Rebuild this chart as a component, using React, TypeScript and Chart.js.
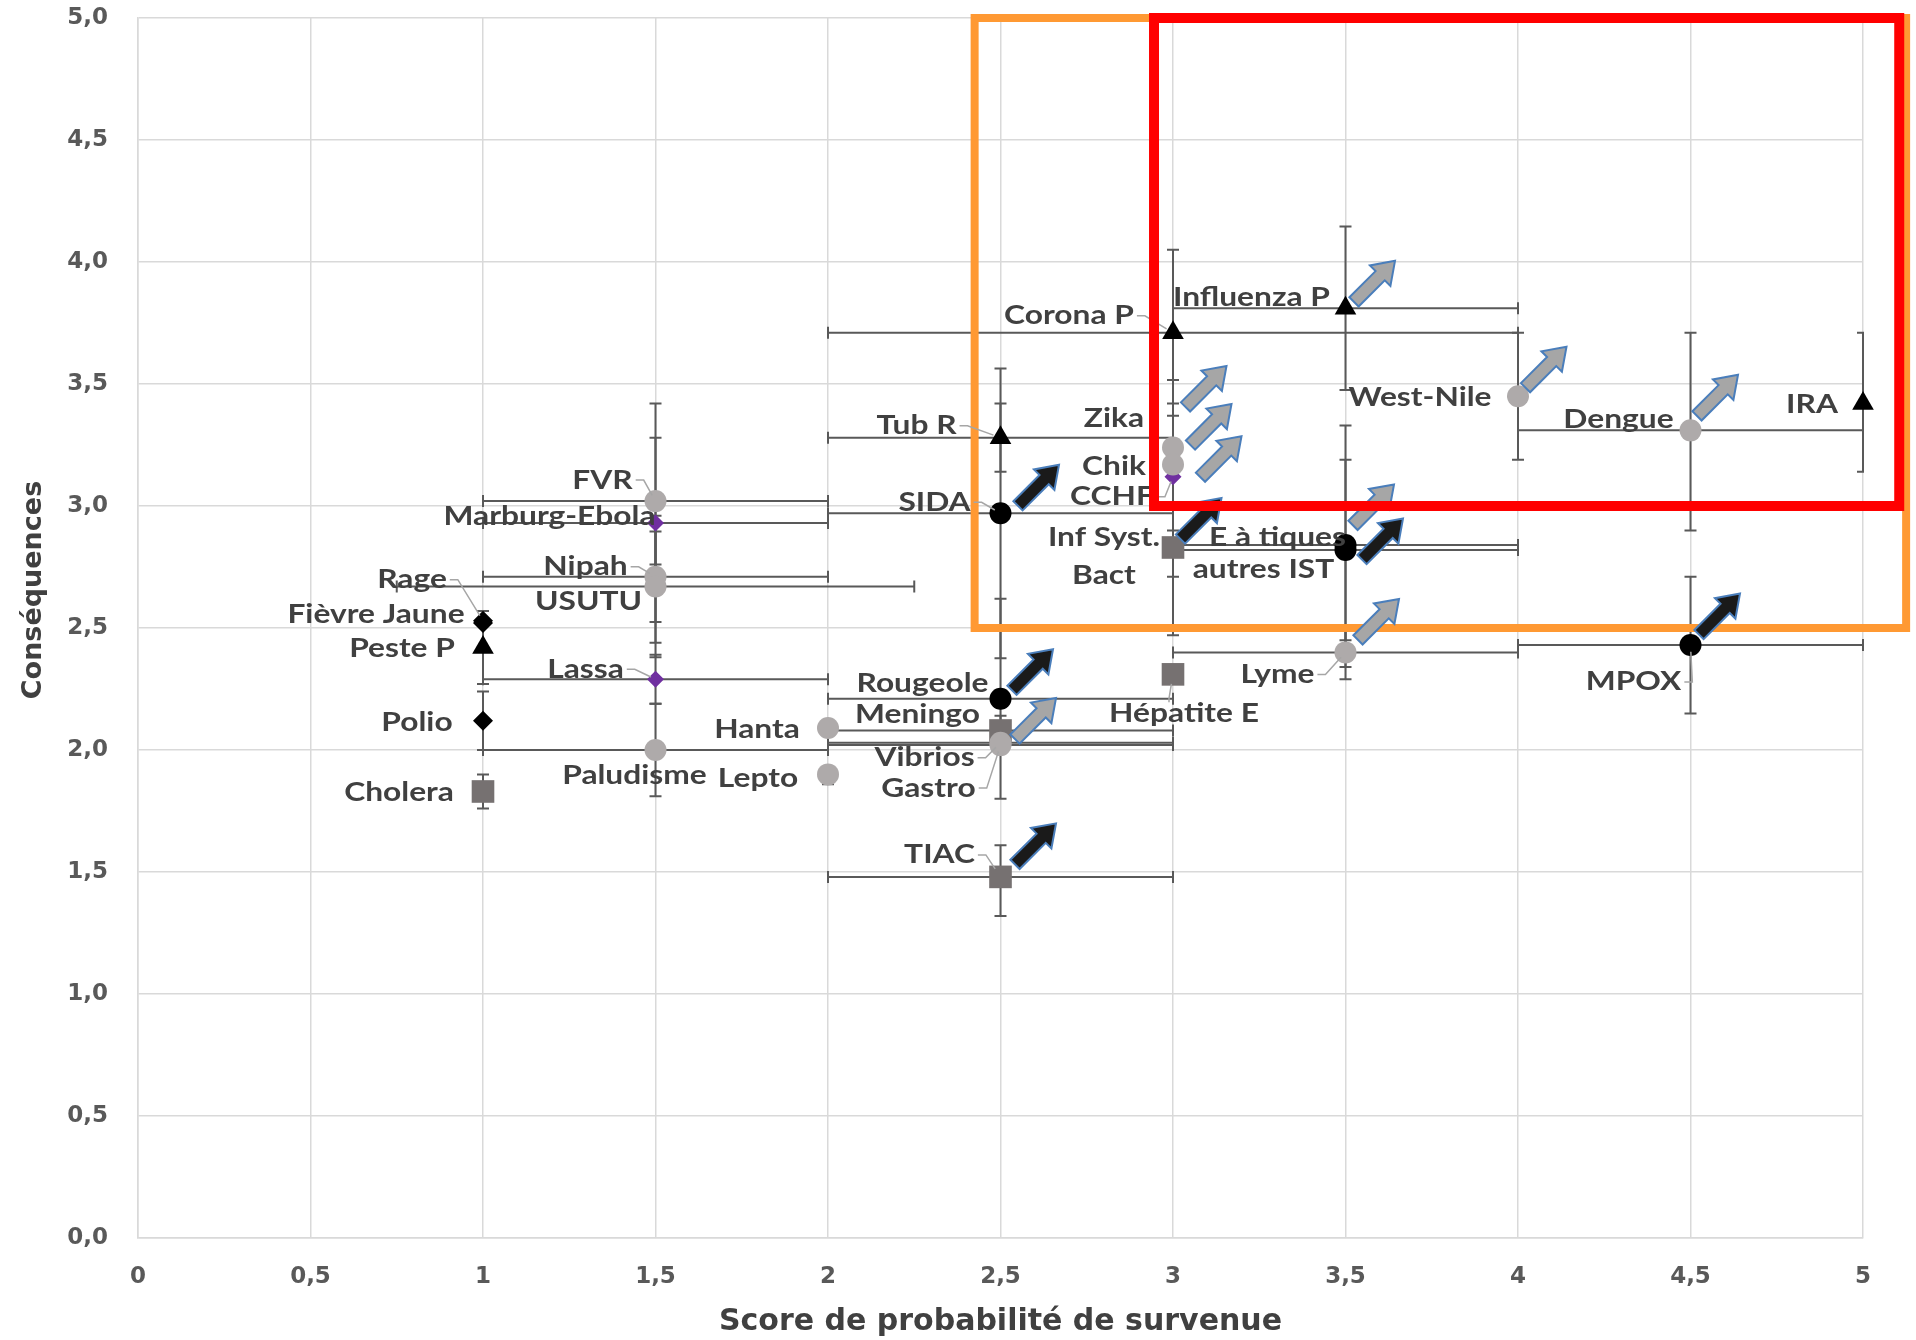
import React, { useEffect, useRef } from 'react';
import { Chart, registerables } from 'chart.js';

Chart.register(...registerables);

// ---------- DATA ----------
const diseases = [
  'FVR', 'Marburg-Ebola', 'Rage', 'Nipah', 'USUTU', 'Fièvre Jaune', 'Peste P', 'Lassa', 'Polio', 'Cholera',
  'Paludisme', 'Lepto', 'Hanta', 'Tub R', 'SIDA', 'Corona P', 'Influenza P', 'Zika', 'Chik', 'CCHF',
  'Inf Syst.\nBact', 'E à tiques', 'autres IST', 'West-Nile', 'Dengue', 'IRA', 'MPOX', 'Lyme', 'Hépatite E', 'Rougeole',
  'Meningo', 'Vibrios', 'Gastro', 'TIAC',
];

const probability = [
  1.5, 1.5, 1.0, 1.5, 1.5, 1.0, 1.0, 1.5, 1.0, 1.0,
  1.5, 2.0, 2.0, 2.5, 2.5, 3.0, 3.5, 3.0, 3.0, 3.0,
  3.0, 3.5, 3.5, 4.0, 4.5, 5.0, 4.5, 3.5, 3.0, 2.5,
  2.5, 2.5, 2.5, 2.5,
];

const consequences = [
  3.02, 2.93, 2.53, 2.71, 2.67, 2.52, 2.42, 2.29, 2.12, 1.83,
  2.00, 1.90, 2.09, 3.28, 2.97, 3.71, 3.81, 3.24, 3.17, 3.12,
  2.83, 2.84, 2.82, 3.45, 3.31, 3.42, 2.43, 2.40, 2.31, 2.21,
  2.08, 2.03, 2.02, 1.48,
];

const probLow = [
  1, 1, null, 1, 0.75, null, null, 1, null, null,
  1, null, null, 2, 2, 2, 3, null, null, null,
  null, 3, 3, null, 4, null, 4, 3, null, 2,
  2, 2, 2, 2,
];
const probHigh = [
  2, 2, null, 2, 2.25, null, null, 2, null, null,
  2, null, null, 3, 3, 4, 4, null, null, null,
  null, 4, 4, null, 5, null, 5, 4, null, 3,
  3, 3, 3, 3,
];

const consLow = [
  2.76, 2.44, null, 2.525, 2.38, null, 2.27, 2.19, 2.0, 1.76,
  1.81, 1.86, null, 3.14, 2.376, 3.37, 3.475, null, 2.90, 2.71,
  2.47, 2.34, 2.45, 3.19, 2.90, 3.14, 2.15, 2.29, null, 1.80,
  2.02, null, null, 1.32,
];
const consHigh = [
  3.28, 3.42, null, 2.895, 2.96, null, 2.57, 2.39, 2.24, 1.90,
  2.19, 1.93, null, 3.42, 3.564, 4.05, 4.146, null, 3.42, 3.516,
  3.19, 3.33, 3.19, 3.71, 3.71, 3.71, 2.71, 2.51, null, 2.62,
  2.14, null, null, 1.61,
];

const markerKind = [
  'circleGray', 'diamondPurple', 'diamondBlack', 'circleGray', 'circleGray', 'diamondBlack', 'triangle', 'diamondPurple', 'diamondBlack', 'square',
  'circleGray', 'circleGray', 'circleGray', 'triangle', 'circleBlack', 'triangle', 'triangle', 'circleGray', 'circleGray', 'diamondPurple',
  'square', 'circleBlack', 'circleBlack', 'circleGray', 'circleGray', 'triangle', 'circleBlack', 'circleGray', 'square', 'circleBlack',
  'square', 'circleGray', 'circleGray', 'square',
];

// rising trend: 'black' or 'grey' arrow, null = none
const trend = [
  null, null, null, null, null, null, null, null, null, null,
  null, null, null, null, 'black', null, 'grey', 'grey', 'grey', 'grey',
  'black', 'black', 'grey', 'grey', 'grey', null, 'black', 'grey', null, 'black',
  'grey', null, null, 'black',
];

const xTickValues = [0, 0.5, 1, 1.5, 2, 2.5, 3, 3.5, 4, 4.5, 5];
const xTickLabels = ['0', '0,5', '1', '1,5', '2', '2,5', '3', '3,5', '4', '4,5', '5'];
const yTickValues = [0, 0.5, 1, 1.5, 2, 2.5, 3, 3.5, 4, 4.5, 5];
const yTickLabels = ['0,0', '0,5', '1,0', '1,5', '2,0', '2,5', '3,0', '3,5', '4,0', '4,5', '5,0'];

// zones (value space)
const orangeZone = { x0: 2.425, x1: 5.125, y0: 2.5, y1: 5.0 };
const redZone = { x0: 2.945, x1: 5.105, y0: 3.0, y1: 5.0 };

// ---------- LAYOUT (pixel offsets, not data) ----------
const labelOffset = [
  [-53, -21], [-106, -6], [-71, -41], [-70, -10], [-67, 15], [-107, -9], [-81, 1], [-70, -10], [-66, 2], [-84, 1],
  [-21, 26], [-70, 4], [-71, 2], [-84, -12], [-66, -11], [-104, -17], [-94, -11], [-59, -29], [-59, 2], [-61, 20],
  [-69, 9], [-68, -7], [-82, 20], [-98, 1], [-72, -11], [-51, 1], [-57, 37], [-68, 22], [11, 39], [-78, -15],
  [-83, -16], [-76, 15], [-72, 43], [-61, -22],
];
const hasLeader = [
  true, false, true, true, false, false, false, true, false, false,
  false, false, false, true, true, true, false, false, false, true,
  false, false, false, false, false, false, true, true, true, false,
  false, true, true, true,
];
const arrowOffset = [
  null, null, null, null, null, null, null, null, null, null,
  null, null, null, null, [38, -28], null, [29, -27], [33, -61], [38, -40], [48, -20],
  [28, -29], [37, -6], [28, -45], [28, -29], [27, -35], null, [29, -31], [33, -33], null, [32, -29],
  [35, -12], null, null, [35, -33],
];

const markerStyles: Record<string, { pointStyle: string; radius: number; color: string }> = {
  circleGray: { pointStyle: 'circle', radius: 11, color: '#AEAAAA' },
  circleBlack: { pointStyle: 'circle', radius: 11, color: '#000000' },
  triangle: { pointStyle: 'triangle', radius: 12.5, color: '#000000' },
  diamondBlack: { pointStyle: 'rectRot', radius: 10, color: '#000000' },
  diamondPurple: { pointStyle: 'rectRot', radius: 8.5, color: '#7030A0' },
  square: { pointStyle: 'rect', radius: 16, color: '#767171' },
};

const W = 1916;
const H = 1340;
const LABEL_STRETCH = 1.22;

function drawArrow(ctx: CanvasRenderingContext2D, cx: number, cy: number, fill: string) {
  const L = 58, sw = 6.5, hw = 14.5, hl = 21;
  const ang = -Math.PI / 4;
  const c = Math.cos(ang), s = Math.sin(ang);
  const pts = [
    [-L / 2, -sw], [L / 2 - hl, -sw], [L / 2 - hl, -hw], [L / 2, 0],
    [L / 2 - hl, hw], [L / 2 - hl, sw], [-L / 2, sw],
  ];
  ctx.beginPath();
  pts.forEach(([u, v], k) => {
    const X = cx + u * c - v * s;
    const Y = cy + u * s + v * c;
    if (k === 0) ctx.moveTo(X, Y); else ctx.lineTo(X, Y);
  });
  ctx.closePath();
  ctx.fillStyle = fill;
  ctx.fill();
  ctx.lineWidth = 2;
  ctx.strokeStyle = '#4A7EBB';
  ctx.stroke();
}

function drawZone(chart: any, z: { x0: number; x1: number; y0: number; y1: number }, color: string, lw: number) {
  const { ctx, scales } = chart;
  const x0 = scales.x.getPixelForValue(z.x0);
  const x1 = scales.x.getPixelForValue(z.x1);
  const y0 = scales.y.getPixelForValue(z.y0);
  const y1 = scales.y.getPixelForValue(z.y1);
  ctx.save();
  ctx.strokeStyle = color;
  ctx.lineWidth = lw;
  ctx.lineJoin = 'miter';
  ctx.strokeRect(x0, y1, x1 - x0, y0 - y1);
  ctx.restore();
}

const riskPlugin = {
  id: 'riskPlugin',
  beforeDatasetsDraw(chart: any) {
    const { ctx, chartArea, scales } = chart;
    const xs = scales.x, ys = scales.y;
    ctx.save();
    ctx.beginPath();
    ctx.rect(chartArea.left - 1, chartArea.top - 1, chartArea.right - chartArea.left + 2, chartArea.bottom - chartArea.top + 2);
    ctx.clip();
    ctx.strokeStyle = '#595959';
    ctx.lineWidth = 2;
    const cap = 6;
    for (let i = 0; i < diseases.length; i++) {
      const px = xs.getPixelForValue(probability[i]);
      const py = ys.getPixelForValue(consequences[i]);
      if (probLow[i] != null && probHigh[i] != null) {
        const a = xs.getPixelForValue(probLow[i]);
        const b = xs.getPixelForValue(probHigh[i]);
        ctx.beginPath();
        ctx.moveTo(a, py); ctx.lineTo(b, py);
        ctx.moveTo(a, py - cap); ctx.lineTo(a, py + cap);
        ctx.moveTo(b, py - cap); ctx.lineTo(b, py + cap);
        ctx.stroke();
      }
      if (consLow[i] != null && consHigh[i] != null) {
        const a = ys.getPixelForValue(consLow[i]);
        const b = ys.getPixelForValue(consHigh[i]);
        ctx.beginPath();
        ctx.moveTo(px, a); ctx.lineTo(px, b);
        ctx.moveTo(px - cap, a); ctx.lineTo(px + cap, a);
        ctx.moveTo(px - cap, b); ctx.lineTo(px + cap, b);
        ctx.stroke();
      }
    }
    ctx.restore();
  },
  afterDatasetsDraw(chart: any) {
    const { ctx, scales } = chart;
    const xs = scales.x, ys = scales.y;

    drawZone(chart, orangeZone, '#FF9933', 8);

    // trend arrows
    ctx.save();
    for (let i = 0; i < diseases.length; i++) {
      const off = arrowOffset[i];
      if (!trend[i] || !off) continue;
      const px = xs.getPixelForValue(probability[i]);
      const py = ys.getPixelForValue(consequences[i]);
      drawArrow(ctx, px + off[0], py + off[1], trend[i] === 'black' ? '#1A1A1A' : '#A6A6A6');
    }
    ctx.restore();

    // labels + leader lines
    ctx.save();
    ctx.font = 'bold 26px Lato';
    ctx.textAlign = 'center';
    ctx.textBaseline = 'middle';
    const lh = 38;
    for (let i = 0; i < diseases.length; i++) {
      const px = xs.getPixelForValue(probability[i]);
      const py = ys.getPixelForValue(consequences[i]);
      const lines = diseases[i].split('\n');
      const cx = px + labelOffset[i][0];
      const cy = py + labelOffset[i][1];
      let wMax = 0;
      lines.forEach((ln) => { wMax = Math.max(wMax, ctx.measureText(ln).width * LABEL_STRETCH); });
      if (hasLeader[i]) {
        const l = cx - wMax / 2 - 3, r = cx + wMax / 2 + 3;
        const t = cy - (lines.length * lh) / 2 + 8, b = cy + (lines.length * lh) / 2 - 8;
        let sx: number, sy: number, mx: number, my: number;
        if (px > r) { sx = r; sy = cy; mx = r + 8; my = cy; }
        else if (px < l) { sx = l; sy = cy; mx = l - 8; my = cy; }
        else if (py < t) { sx = px - 4; sy = t; mx = sx; my = t - 4; }
        else { sx = Math.min(Math.max(px, l), r); sy = b; mx = sx; my = b + 4; }
        const rad = markerStyles[markerKind[i]].radius * 0.6;
        const dx = px - mx, dy = py - my;
        const d = Math.hypot(dx, dy);
        const ex = d > rad ? px - (dx / d) * rad : mx;
        const ey = d > rad ? py - (dy / d) * rad : my;
        ctx.beginPath();
        ctx.moveTo(sx, sy);
        ctx.lineTo(mx, my);
        ctx.lineTo(ex, ey);
        ctx.strokeStyle = '#A6A6A6';
        ctx.lineWidth = 1.5;
        ctx.stroke();
      }
      ctx.fillStyle = '#404040';
      lines.forEach((ln, k) => {
        ctx.save();
        ctx.translate(cx, cy + (k - (lines.length - 1) / 2) * lh);
        ctx.scale(LABEL_STRETCH, 1);
        ctx.fillText(ln, 0, 0);
        ctx.restore();
      });
    }
    ctx.restore();

    drawZone(chart, redZone, '#FF0000', 10);
  },
  afterDraw(chart: any) {
    const { ctx } = chart;
    ctx.save();
    ctx.translate(34, 590);
    ctx.rotate(-Math.PI / 2);
    ctx.font = 'bold 27px "DejaVu Sans"';
    ctx.fillStyle = '#404040';
    ctx.textAlign = 'center';
    ctx.textBaseline = 'middle';
    ctx.fillText('Conséquences', 0, 0);
    ctx.restore();
  },
};

export default function App() {
  const ref = useRef<HTMLCanvasElement | null>(null);

  useEffect(() => {
    if (!ref.current) return;
    const kinds = Object.keys(markerStyles);
    const datasets = kinds.map((k) => {
      const st = markerStyles[k];
      const idx = diseases.map((_, i) => i).filter((i) => markerKind[i] === k);
      return {
        label: k,
        data: idx.map((i) => ({ x: probability[i], y: consequences[i] })),
        pointStyle: st.pointStyle,
        pointRadius: st.radius,
        pointHoverRadius: st.radius,
        backgroundColor: st.color,
        borderColor: st.color,
        borderWidth: 0,
        showLine: false,
        clip: false,
      };
    });

    const tickFont = { family: '"DejaVu Sans"', weight: 'bold', size: 23 };
    const chart = new Chart(ref.current, {
      type: 'scatter',
      data: { datasets } as any,
      options: {
        responsive: false,
        animation: false,
        devicePixelRatio: 1,
        layout: { padding: { left: 0, right: 53, top: 18, bottom: 0 } },
        plugins: { legend: { display: false }, tooltip: { enabled: false } },
        scales: {
          x: {
            type: 'linear',
            min: 0,
            max: 5,
            afterBuildTicks: (s: any) => { s.ticks = xTickValues.map((v) => ({ value: v })); },
            afterFit: (s: any) => { s.height = H - 1238; s.paddingLeft = 0; s.paddingRight = 0; },
            grid: { color: '#D9D9D9', lineWidth: 1.5, drawTicks: false },
            border: { color: '#D9D9D9', width: 1.5 },
            ticks: {
              padding: 25,
              color: '#595959',
              font: tickFont as any,
              maxRotation: 0,
              autoSkip: false,
              callback: (_v: any, i: number) => xTickLabels[i],
            },
            title: {
              display: true,
              text: 'Score de probabilité de survenue',
              color: '#404040',
              font: { family: '"DejaVu Sans"', weight: 'bold', size: 30 } as any,
              padding: { top: 0, bottom: 0 },
            },
          },
          y: {
            type: 'linear',
            min: 0,
            max: 5,
            afterBuildTicks: (s: any) => { s.ticks = yTickValues.map((v) => ({ value: v })); },
            afterFit: (s: any) => { s.width = 138; s.paddingTop = 0; s.paddingBottom = 0; },
            grid: { color: '#D9D9D9', lineWidth: 1.5, drawTicks: false },
            border: { color: '#D9D9D9', width: 1.5 },
            ticks: {
              padding: 30,
              color: '#595959',
              font: tickFont as any,
              autoSkip: false,
              callback: (_v: any, i: number) => yTickLabels[i],
            },
          },
        },
      } as any,
      plugins: [riskPlugin as any],
    });
    return () => chart.destroy();
  }, []);

  return (
    <div style={{ position: 'absolute', left: 0, top: 0, width: W, height: H, background: '#fff' }}>
      <canvas ref={ref} width={W} height={H} style={{ width: W, height: H, display: 'block' }} />
    </div>
  );
}
